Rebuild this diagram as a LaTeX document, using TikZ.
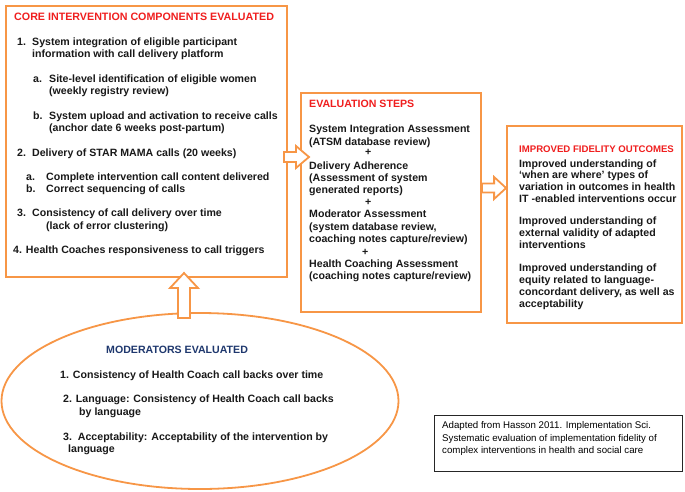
\documentclass[tikz,border=0pt]{standalone}
\usepackage{fontspec}
\setmainfont{Liberation Sans}
\usetikzlibrary{shapes.geometric,calc}
\definecolor{boxorange}{RGB}{247,150,70}
\definecolor{titlered}{RGB}{240,30,30}
\definecolor{navy}{RGB}{31,56,110}
\definecolor{bodyblack}{RGB}{25,25,25}
\begin{document}
\begin{tikzpicture}[x=1pt,y=-1pt,
  obox/.style={draw=boxorange, line width=1.8pt, fill=white, inner sep=0pt},
  srcbox/.style={draw=black!85, line width=0.8pt, fill=white, inner sep=0pt},
  barrow/.style={draw=boxorange, line width=1.8pt, fill=white, line join=miter},
  txt/.style={anchor=base west, inner sep=0pt, text=bodyblack, font=\fontsize{10.6}{12}\selectfont\bfseries},
  stxt/.style={txt, font=\fontsize{10.7}{12}\selectfont\bfseries},
  ttl/.style={txt, text=titlered},
  ttlsmall/.style={txt, text=titlered, font=\fontsize{9.6}{11}\selectfont\bfseries},
  navyttl/.style={txt, text=navy},
  srctxt/.style={anchor=base west, inner sep=0pt, text=black, font=\fontsize{9.7}{12}\selectfont}
]
\useasboundingbox (0,0) rectangle (685,491);

% ---- boxes ----
\node[obox, minimum width=281pt, minimum height=271pt] (core) at (146.5,141.5) {};
\node[obox, minimum width=180pt, minimum height=219pt] (steps) at (391,202.5) {};
\node[obox, minimum width=175pt, minimum height=197pt] (outc) at (594.5,224.5) {};
\node[obox, ellipse, minimum width=397pt, minimum height=176pt] (mod) at (200,401) {};
\node[srcbox, minimum width=248pt, minimum height=56pt] (src) at (558,443) {};

% ---- block arrows ----
\coordinate (a1s) at (core.east |- 0,157);
\coordinate (a1t) at (309,157);
\draw[barrow] ($(a1s)+(-4,-5)$) -- ($(a1t)+(-13,-5)$) -- ($(a1t)+(-13,-11)$) -- (a1t)
  -- ($(a1t)+(-13,11)$) -- ($(a1t)+(-13,5)$) -- ($(a1s)+(-4,5)$) -- cycle;

\coordinate (a2s) at (steps.east |- 0,188);
\coordinate (a2t) at (outc.west |- 0,188);
\draw[barrow] ($(a2s)+(0,-4.5)$) -- ($(a2t)+(-12,-4.5)$) -- ($(a2t)+(-12,-11)$) -- (a2t)
  -- ($(a2t)+(-12,11)$) -- ($(a2t)+(-12,4.5)$) -- ($(a2s)+(0,4.5)$) -- cycle;

\coordinate (a3s) at (184,318);
\coordinate (a3t) at (184,273);
\draw[barrow] ($(a3s)+(-6,0)$) -- ($(a3t)+(-6,15)$) -- ($(a3t)+(-14,15)$) -- (a3t)
  -- ($(a3t)+(14,15)$) -- ($(a3t)+(6,15)$) -- ($(a3s)+(6,0)$) -- cycle;

% ---- core box text ----
\node[stxt, text=titlered] (ct) at (14,20) {CORE INTERVENTION COMPONENTS EVALUATED};
\node[txt] (c1n) at (17,45) {1.};
\node[txt] (c1a) at (32,45) {System integration of eligible participant};
\node[txt] (c1b) at (32,57) {information with call delivery platform};
\node[txt] (c1an) at (33,82) {a.};
\node[txt] (c1aa) at (49,82) {Site-level identification of eligible women};
\node[txt] (c1ab) at (49,94) {(weekly registry review)};
\node[txt] (c1bn) at (33,119) {b.};
\node[txt] (c1ba) at (49,119) {System upload and activation to receive calls};
\node[txt] (c1bb) at (49,131) {(anchor date 6 weeks post-partum)};
\node[txt] (c2n) at (17,156) {2.};
\node[txt] (c2a) at (32,156) {Delivery of STAR MAMA calls (20 weeks)};
\node[txt] (c2an) at (26,180) {a.};
\node[txt] (c2aa) at (46,180) {Complete intervention call content delivered};
\node[txt] (c2bn) at (26,192) {b.};
\node[txt] (c2ba) at (46,192) {Correct sequencing of calls};
\node[txt] (c3n) at (17,216) {3.};
\node[txt] (c3a) at (32,216) {Consistency of call delivery over time};
\node[txt] (c3b) at (46,229) {(lack of error clustering)};
\node[txt] (c4) at (13,253) {4. Health Coaches responsiveness to call triggers};

% ---- evaluation steps text ----
\node[ttl] (st) at (309,107) {EVALUATION STEPS};
\node[txt] (s1) at (309,132) {System Integration Assessment};
\node[txt] (s2) at (309,145) {(ATSM database review)};
\node[txt] (sp1) at (365,155) {+};
\node[txt] (s3) at (309,169) {Delivery Adherence};
\node[txt] (s4) at (309,181) {(Assessment of system};
\node[txt] (s5) at (309,193) {generated reports)};
\node[txt] (sp2) at (365,205) {+};
\node[txt] (s6) at (309,217) {Moderator Assessment};
\node[txt] (s7) at (309,230) {(system database review,};
\node[txt] (s8) at (309,242) {coaching notes capture/review)};
\node[txt] (sp3) at (362,255) {+};
\node[txt] (s9) at (309,267) {Health Coaching Assessment};
\node[txt] (s10) at (309,279) {(coaching notes capture/review)};

% ---- outcomes text ----
\node[ttlsmall] (ot) at (519,152.5) {IMPROVED FIDELITY OUTCOMES};
\node[txt] (o1) at (519,167) {Improved understanding of};
\node[txt] (o2) at (519,178) {‘when are where’ types of};
\node[txt] (o3) at (519,190) {variation in outcomes in health};
\node[txt] (o4) at (519,202) {IT -enabled interventions occur};
\node[txt] (o5) at (519,224) {Improved understanding of};
\node[txt] (o6) at (519,236) {external validity of adapted};
\node[txt] (o7) at (519,248) {interventions};
\node[txt] (o8) at (519,271) {Improved understanding of};
\node[txt] (o9) at (519,283) {equity related to language-};
\node[txt] (o10) at (519,295) {concordant delivery, as well as};
\node[txt] (o11) at (519,307) {acceptability};

% ---- moderators text ----
\node[navyttl] (mt) at (106,353) {MODERATORS EVALUATED};
\node[txt] (m1) at (60,378) {1. Consistency of Health Coach call backs over time};
\node[txt] (m2) at (63,402) {2. Language: Consistency of Health Coach call backs};
\node[txt] (m2b) at (79,415) {by language};
\node[txt] (m3) at (63,440) {3.\ \ Acceptability: Acceptability of the intervention by};
\node[txt] (m3b) at (68,452) {language};

% ---- source text ----
\node[srctxt] (r1) at (442,428.5) {Adapted from Hasson 2011. Implementation Sci.};
\node[srctxt] (r2) at (442,441) {Systematic evaluation of implementation fidelity of};
\node[srctxt] (r3) at (442,453.5) {complex interventions in health and social care};
\end{tikzpicture}
\end{document}
